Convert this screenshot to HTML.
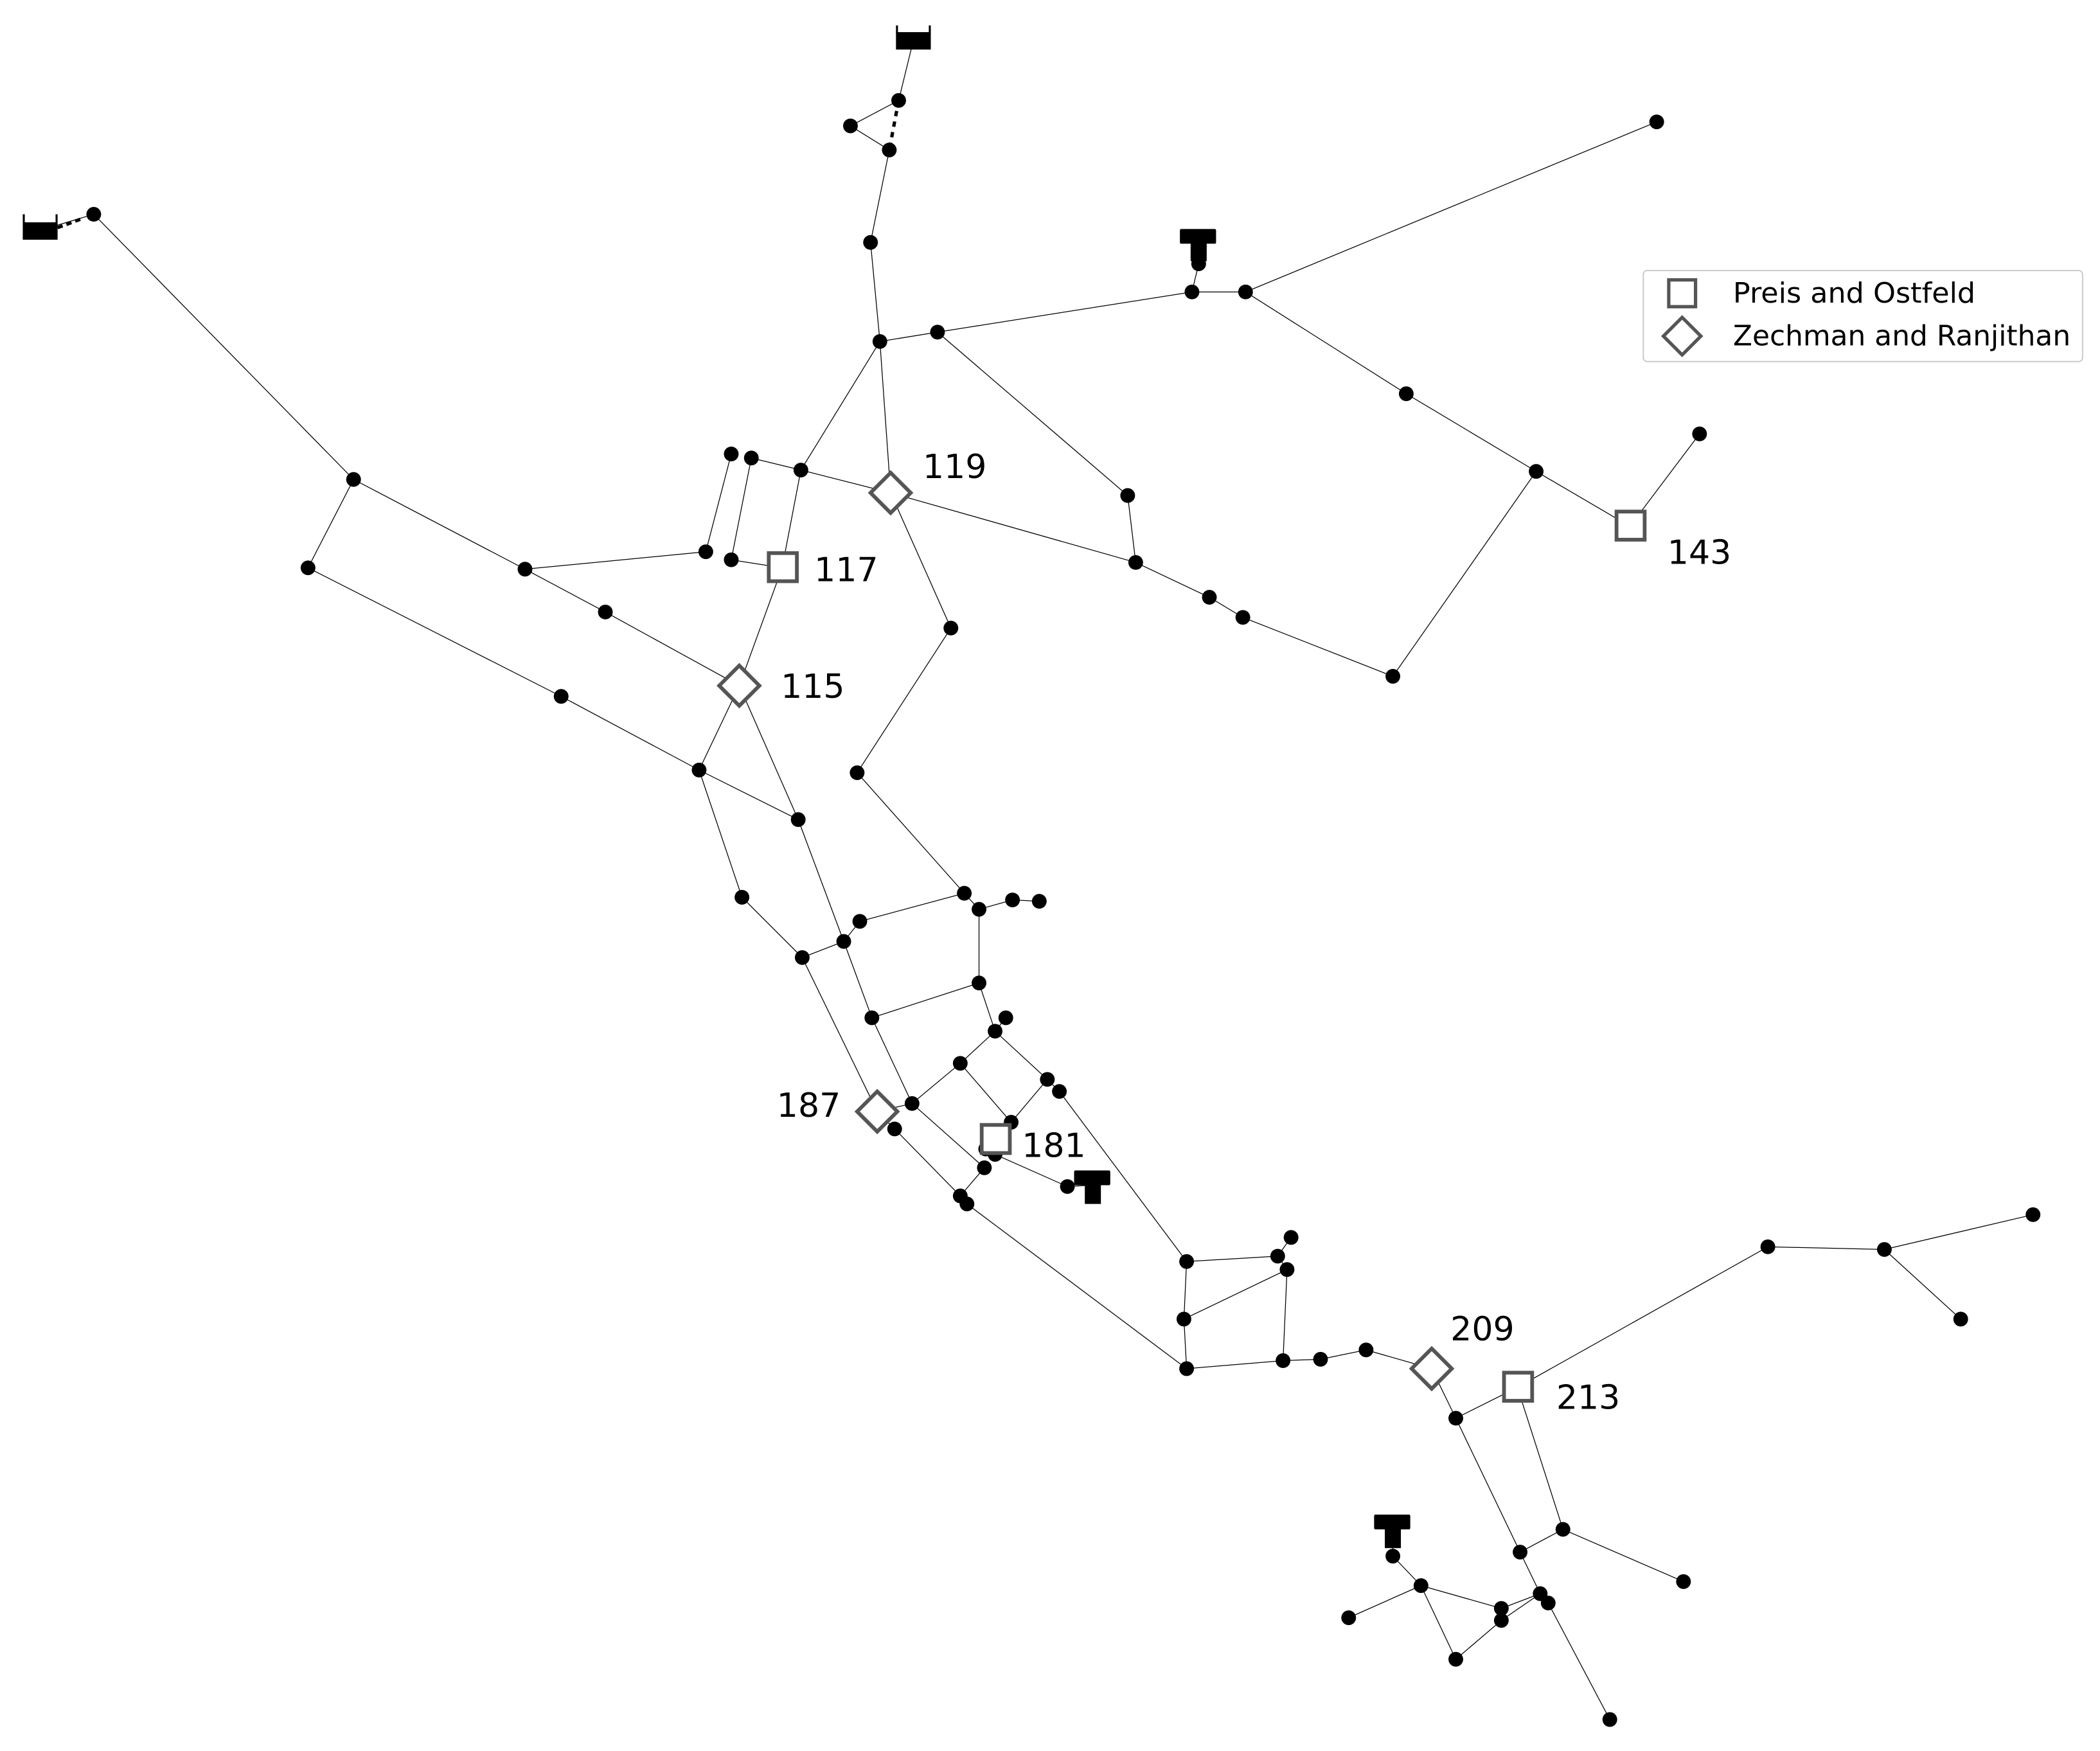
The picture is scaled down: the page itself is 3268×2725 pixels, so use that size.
<!DOCTYPE html>
<html><head><meta charset="utf-8"><style>
html,body{margin:0;padding:0;background:#fff;}
svg{display:block;}
text{font-family:"DejaVu Sans","Liberation Sans",sans-serif;}
</style></head><body>
<svg width="3268" height="2725" viewBox="0 0 1568 1307.5" preserveAspectRatio="none" xmlns="http://www.w3.org/2000/svg">
<g stroke="#000" stroke-width="0.6" fill="none">
<polyline points="682,30 671,75 635,94 664,112 650,181 657,255 700,248 890,218 930,218 1237,91"/>
<line x1="671" y1="75" x2="664" y2="112" stroke-width="2.5" stroke-dasharray="4,4"/>
<line x1="890" y1="218" x2="895" y2="197"/>
<polyline points="657,255 598,351 584,424 552,512 522,575 554,670 599,715 655,830 668,843 717,893 722,899 886,1022 958,1016 986,1015 1020,1008 1069,1022 1087,1059 1135,1159 1150,1190 1156,1197 1202,1284"/>
<line x1="657" y1="255" x2="665" y2="368"/>
<polyline points="598,351 665,368 848,420 903,446 928,461 1040,505 1147,352 1217,393 1269,324"/>
<polyline points="700,248 842,370 848,420"/>
<polyline points="930,218 1050,294 1147,352"/>
<polyline points="665,368 710,469 640,577 720,667 731,679 756,672 776,673"/>
<polyline points="30,172 70,160 264,358 230,424 419,520 522,575 596,612 630,703 651,760 681,824 717,794 743,770 751,760"/>
<line x1="43" y1="170" x2="62" y2="163" stroke-width="2.5" stroke-dasharray="4,3"/>
<polyline points="264,358 392,425 452,457 552,512 596,612"/>
<polyline points="392,425 527,412 546,339"/>
<polyline points="561,342 546,418 584,424"/>
<line x1="561" y1="342" x2="598" y2="351"/>
<polyline points="599,715 630,703 642,688 720,667"/>
<polyline points="731,679 731,734 743,770 782,806 755,838 717,794"/>
<polyline points="651,760 731,734"/>
<polyline points="681,824 655,830"/>
<polyline points="681,824 735,872 717,893"/>
<polyline points="743,862 797,886 815,885"/>
<polyline points="791,815 886,942 884,985 886,1022"/>
<polyline points="782,806 791,815"/>
<polyline points="886,942 954,938 964,924"/>
<polyline points="884,985 961,948 958,1016"/>
<polyline points="954,938 961,948"/>
<polyline points="1087,1059 1133,1036 1320,931 1407,933 1518,907"/>
<line x1="1407" y1="933" x2="1464" y2="985"/>
<polyline points="1133,1036 1167,1142 1257,1181"/>
<line x1="1167" y1="1142" x2="1135" y2="1159"/>
<polyline points="1040,1150 1040,1162 1061,1184 1007,1208"/>
<polyline points="1061,1184 1121,1201 1150,1190"/>
<polyline points="1061,1184 1087,1239 1121,1210 1150,1190"/>
</g>
<g fill="#000">
<circle cx="671" cy="75" r="5.5"/><circle cx="635" cy="94" r="5.5"/><circle cx="664" cy="112" r="5.5"/><circle cx="650" cy="181" r="5.5"/><circle cx="657" cy="255" r="5.5"/><circle cx="700" cy="248" r="5.5"/><circle cx="890" cy="218" r="5.5"/><circle cx="930" cy="218" r="5.5"/><circle cx="1237" cy="91" r="5.5"/><circle cx="895" cy="197" r="5.5"/>
<circle cx="598" cy="351" r="5.5"/><circle cx="842" cy="370" r="5.5"/><circle cx="848" cy="420" r="5.5"/><circle cx="903" cy="446" r="5.5"/><circle cx="928" cy="461" r="5.5"/><circle cx="1040" cy="505" r="5.5"/><circle cx="1147" cy="352" r="5.5"/><circle cx="1050" cy="294" r="5.5"/><circle cx="1269" cy="324" r="5.5"/>
<circle cx="710" cy="469" r="5.5"/><circle cx="640" cy="577" r="5.5"/><circle cx="720" cy="667" r="5.5"/><circle cx="731" cy="679" r="5.5"/><circle cx="756" cy="672" r="5.5"/><circle cx="776" cy="673" r="5.5"/>
<circle cx="70" cy="160" r="5.5"/><circle cx="264" cy="358" r="5.5"/><circle cx="230" cy="424" r="5.5"/><circle cx="392" cy="425" r="5.5"/><circle cx="452" cy="457" r="5.5"/><circle cx="419" cy="520" r="5.5"/><circle cx="522" cy="575" r="5.5"/><circle cx="596" cy="612" r="5.5"/><circle cx="527" cy="412" r="5.5"/><circle cx="546" cy="339" r="5.5"/><circle cx="561" cy="342" r="5.5"/><circle cx="546" cy="418" r="5.5"/>
<circle cx="554" cy="670" r="5.5"/><circle cx="599" cy="715" r="5.5"/><circle cx="630" cy="703" r="5.5"/><circle cx="642" cy="688" r="5.5"/><circle cx="731" cy="734" r="5.5"/><circle cx="651" cy="760" r="5.5"/><circle cx="743" cy="770" r="5.5"/><circle cx="751" cy="760" r="5.5"/><circle cx="717" cy="794" r="5.5"/><circle cx="681" cy="824" r="5.5"/><circle cx="782" cy="806" r="5.5"/><circle cx="791" cy="815" r="5.5"/><circle cx="755" cy="838" r="5.5"/><circle cx="668" cy="843" r="5.5"/><circle cx="735" cy="872" r="5.5"/><circle cx="743" cy="862" r="5.5"/><circle cx="736" cy="858" r="5.5"/><circle cx="717" cy="893" r="5.5"/><circle cx="722" cy="899" r="5.5"/><circle cx="797" cy="886" r="5.5"/>
<circle cx="886" cy="942" r="5.5"/><circle cx="884" cy="985" r="5.5"/><circle cx="886" cy="1022" r="5.5"/><circle cx="954" cy="938" r="5.5"/><circle cx="964" cy="924" r="5.5"/><circle cx="961" cy="948" r="5.5"/><circle cx="958" cy="1016" r="5.5"/><circle cx="986" cy="1015" r="5.5"/><circle cx="1020" cy="1008" r="5.5"/>
<circle cx="1087" cy="1059" r="5.5"/><circle cx="1320" cy="931" r="5.5"/><circle cx="1407" cy="933" r="5.5"/><circle cx="1518" cy="907" r="5.5"/><circle cx="1464" cy="985" r="5.5"/><circle cx="1167" cy="1142" r="5.5"/><circle cx="1257" cy="1181" r="5.5"/><circle cx="1135" cy="1159" r="5.5"/><circle cx="1150" cy="1190" r="5.5"/><circle cx="1156" cy="1197" r="5.5"/><circle cx="1202" cy="1284" r="5.5"/><circle cx="1121" cy="1201" r="5.5"/><circle cx="1121" cy="1210" r="5.5"/><circle cx="1061" cy="1184" r="5.5"/><circle cx="1087" cy="1239" r="5.5"/><circle cx="1007" cy="1208" r="5.5"/><circle cx="1040" cy="1162" r="5.5"/>
<rect x="669" y="24" width="26" height="13"/><rect x="669" y="19" width="1.5" height="6"/><rect x="693.5" y="19" width="1.5" height="6"/>
<rect x="17" y="166" width="26" height="13"/><rect x="17" y="160" width="1.5" height="6"/><rect x="41.5" y="160" width="1.5" height="6"/>
<rect x="881" y="171" width="27" height="11" rx="1"/><rect x="889" y="181" width="12" height="14"/>
<rect x="802" y="874" width="27" height="11" rx="1"/><rect x="810" y="884" width="12" height="15"/>
<rect x="1026" y="1131" width="27" height="11" rx="1"/><rect x="1034" y="1141" width="12" height="15"/>
</g>
<g fill="#fff" stroke="#555" stroke-width="2.8">
<rect x="574" y="413" width="21" height="21"/>
<rect x="733" y="840" width="21" height="21"/>
<rect x="1207" y="382" width="21" height="21"/>
<rect x="1123" y="1025" width="21" height="21"/>
<polygon points="665,353 680,368 665,383 650,368"/>
<polygon points="552,497 567,512 552,527 537,512"/>
<polygon points="655,815 670,830 655,845 640,830"/>
<polygon points="1069,1007 1084,1022 1069,1037 1054,1022"/>
</g>
<g font-size="25" fill="#000">
<text x="689" y="357">119</text>
<text x="608" y="434">117</text>
<text x="583" y="521">115</text>
<text x="1245" y="421">143</text>
<text x="580" y="834">187</text>
<text x="763" y="864">181</text>
<text x="1083" y="1001">209</text>
<text x="1162" y="1052">213</text>
</g>
<rect x="1227" y="202" width="328" height="68" rx="3" fill="#fff" stroke="#ccc" stroke-width="1"/>
<rect x="1246" y="209" width="20" height="20" fill="#fff" stroke="#555" stroke-width="2.5"/>
<polygon points="1256,237 1270,251 1256,265 1242,251" fill="#fff" stroke="#555" stroke-width="2.5"/>
<g font-size="21" fill="#000">
<text x="1294" y="226" textLength="181" lengthAdjust="spacingAndGlyphs">Preis and Ostfeld</text>
<text x="1294" y="258" textLength="252" lengthAdjust="spacingAndGlyphs">Zechman and Ranjithan</text>
</g>
</svg>
</body></html>
